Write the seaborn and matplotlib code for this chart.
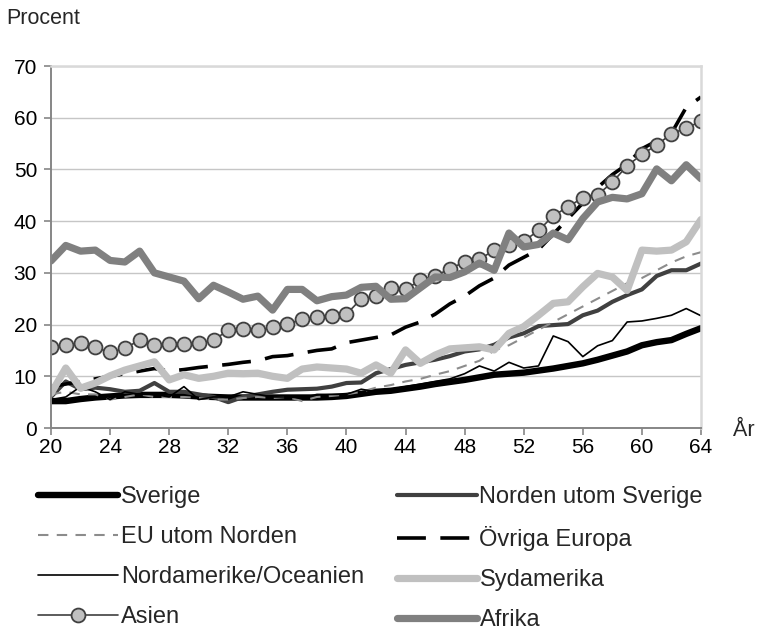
import matplotlib
matplotlib.use("Agg")
import matplotlib.pyplot as plt
import seaborn as sns
import pandas as pd

ages = list(range(20, 65))

sverige = [5.2, 5.2, 5.6, 5.9, 6.1, 6.3, 6.4, 6.4, 6.4, 6.3, 6.1, 6.0, 5.9, 5.9, 5.9,
           5.9, 5.9, 5.9, 5.9, 6.0, 6.2, 6.6, 7.0, 7.2, 7.6, 8.0, 8.5, 8.9, 9.3, 9.8,
           10.3, 10.5, 10.7, 11.1, 11.5, 12.0, 12.5, 13.2, 14.0, 14.8, 16.0, 16.6, 17.0, 18.2, 19.3]
norden = [6.0, 9.0, 7.5, 7.8, 7.5, 7.0, 7.2, 8.7, 7.0, 7.0, 6.5, 6.0, 5.0, 6.0, 6.5,
          7.0, 7.4, 7.5, 7.6, 8.0, 8.7, 8.8, 10.6, 11.4, 12.2, 12.7, 13.2, 13.9, 14.8, 15.2,
          16.1, 17.5, 18.3, 19.7, 19.9, 20.1, 21.8, 22.7, 24.4, 25.7, 26.8, 29.4, 30.5, 30.5, 31.8]
eu = [6.5, 7.0, 6.5, 6.5, 5.5, 6.0, 6.5, 6.0, 6.0, 6.0, 5.8, 5.5, 5.5, 5.8, 6.0,
      5.8, 6.0, 5.2, 6.0, 6.2, 6.5, 7.0, 7.8, 8.3, 9.0, 9.5, 10.3, 11.0, 12.0, 13.0,
      15.0, 16.0, 17.5, 19.0, 20.5, 22.0, 23.5, 25.0, 26.5, 28.0, 29.0, 30.5, 32.0, 33.2, 34.0]
ovriga = [8.0, 8.5, 9.0, 9.5, 10.0, 10.5, 11.0, 11.5, 11.0, 11.3, 11.7, 12.0, 12.3, 12.7, 13.0,
          13.8, 14.0, 14.5, 15.0, 15.3, 16.5, 17.0, 17.5, 18.0, 19.5, 20.5, 22.0, 24.0, 25.5, 27.5,
          29.0, 31.5, 33.0, 34.5, 37.5, 40.5, 43.5, 46.5, 49.0, 51.0, 54.0, 55.5, 57.0, 62.0, 64.0]
nordamerika = [5.5, 6.0, 8.0, 7.0, 5.5, 7.0, 6.5, 6.5, 6.0, 8.0, 5.5, 6.0, 6.0, 7.0, 6.5,
               6.0, 6.0, 5.8, 6.5, 6.5, 6.5, 7.5, 7.0, 7.5, 8.0, 8.5, 9.0, 9.5, 10.5, 12.0,
               11.0, 12.7, 11.6, 12.0, 17.8, 16.7, 13.8, 15.9, 16.9, 20.5, 20.7, 21.2, 21.8, 23.1, 21.7]
sydamerika = [6.7, 11.6, 7.7, 8.7, 10.1, 11.2, 12.0, 12.8, 9.3, 10.3, 9.6, 10.0, 10.6, 10.5, 10.6,
              10.0, 9.6, 11.4, 11.8, 11.6, 11.4, 10.6, 12.2, 10.6, 15.1, 12.5, 14.1, 15.3, 15.5, 15.7,
              15.1, 18.3, 19.6, 21.8, 24.1, 24.4, 27.3, 29.9, 29.2, 26.6, 34.4, 34.2, 34.4, 36.0, 40.3]
asien = [15.7, 16.1, 16.4, 15.6, 14.6, 15.4, 17.0, 16.1, 16.2, 16.2, 16.4, 17.0, 18.9, 19.1, 18.9,
         19.5, 20.1, 21.0, 21.5, 21.7, 22.0, 25.0, 25.5, 27.0, 26.8, 28.6, 29.4, 30.8, 32.1, 32.6,
         34.4, 35.3, 36.1, 38.2, 41.0, 42.8, 44.5, 45.1, 47.5, 50.7, 52.9, 54.7, 56.9, 58.0, 59.3]
afrika = [32.3, 35.3, 34.2, 34.4, 32.4, 32.1, 34.2, 30.0, 29.2, 28.4, 25.0, 27.6, 26.3, 24.9, 25.5,
          22.8, 26.8, 26.8, 24.6, 25.4, 25.7, 27.2, 27.4, 24.9, 25.0, 27.1, 29.2, 29.1, 30.2, 31.9,
          30.5, 37.7, 35.0, 35.5, 37.7, 36.4, 40.5, 43.7, 44.6, 44.3, 45.3, 50.1, 47.8, 50.9, 48.2]

x_ticks = list(range(20, 65, 4))
y_ticks = [0, 10, 20, 30, 40, 50, 60, 70]

series = [
    ("Sverige", sverige, dict(color="black", linewidth=4.6)),
    ("Norden utom Sverige", norden, dict(color="#404040", linewidth=3.0)),
    ("EU utom Norden", eu, dict(color="#8c8c8c", linewidth=1.5, dashes=(5.0, 4.0))),
    ("Övriga Europa", ovriga, dict(color="black", linewidth=2.6, dashes=(8.0, 4.0))),
    ("Nordamerike/Oceanien", nordamerika, dict(color="black", linewidth=1.2)),
    ("Sydamerika", sydamerika, dict(color="#c0c0c0", linewidth=5.2)),
    ("Asien", asien, dict(color="#404040", linewidth=1.2, marker="o", markersize=10,
                          markerfacecolor="#c0c0c0", markeredgecolor="#404040",
                          markeredgewidth=1.3)),
    ("Afrika", afrika, dict(color="#808080", linewidth=5.2)),
]

sns.set_style("white")
plt.rcParams["font.family"] = ["Liberation Sans", "DejaVu Sans"]

fig = plt.figure(figsize=(7.61, 6.30), dpi=100)
ax = fig.add_axes([51 / 761, 1 - 428 / 630, 650 / 761, 362 / 630])

handles = {}
for name, vals, style in series:
    df = pd.DataFrame({"age": ages, "value": vals})
    kw = dict(style)
    dashes = kw.pop("dashes", None)
    sns.lineplot(data=df, x="age", y="value", ax=ax, label=name, **kw)
    line = ax.get_lines()[-1]
    line.set_solid_capstyle("round")
    line.set_solid_joinstyle("round")
    if dashes is not None:
        line.set_dashes(dashes)
        line.set_dash_capstyle("butt")
    handles[name] = line

ax.set_xlim(20, 64)
ax.set_ylim(0, 70)
ax.set_xticks(x_ticks)
ax.set_yticks(y_ticks)
ax.set_xlabel("")
ax.set_ylabel("")
ax.grid(axis="y", color="#c6c6c6", linewidth=1.0)
ax.set_axisbelow(True)

for side in ("left", "bottom"):
    ax.spines[side].set_color("#868686")
    ax.spines[side].set_linewidth(1.4)
for side in ("top", "right"):
    ax.spines[side].set_color("#d9d9d9")
    ax.spines[side].set_linewidth(1.8)

ax.tick_params(axis="both", labelsize=15, colors="black", length=5, width=1.2, direction="out")
ax.tick_params(axis="x", color="#868686", pad=2.5)
ax.tick_params(axis="y", color="#868686", pad=5)
ax.tick_params(left=True, bottom=True)

fig.text(6 / 761, 1 - 18 / 630, "Procent", fontsize=15.5, va="center", ha="left")
fig.text(733 / 761, 1 - 430 / 630, "År", fontsize=15.5, va="center", ha="left")

ax.get_legend().remove()
order = ["Sverige", "EU utom Norden", "Nordamerike/Oceanien", "Asien",
         "Norden utom Sverige", "Övriga Europa", "Sydamerika", "Afrika"]
fig.legend([handles[n] for n in order], order, ncol=2, loc="upper left",
           bbox_to_anchor=(38 / 761, 1 - 486 / 630), frameon=False, fontsize=17,
           handlelength=3.4, handletextpad=0.1, columnspacing=1.4, labelspacing=0.76,
           borderaxespad=0, borderpad=0)

fig.savefig("out.png", dpi=100)
